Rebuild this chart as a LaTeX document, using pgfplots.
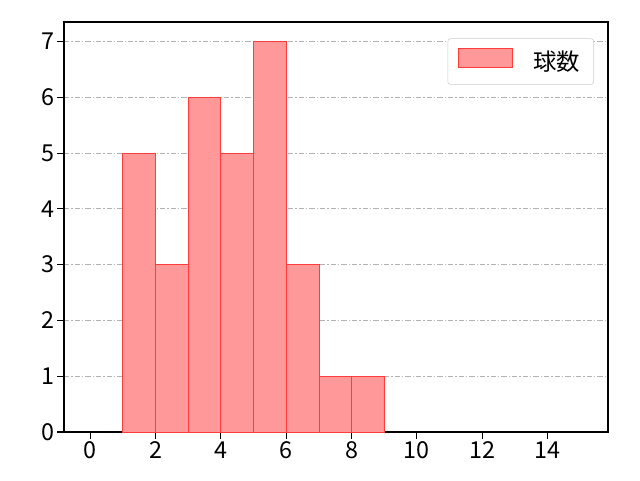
\documentclass[border=0pt]{standalone}
\usepackage{fontspec}
\setmainfont{Noto Sans CJK JP}
\usepackage{pgfplots}
\pgfplotsset{compat=1.18}
\definecolor{barfill}{RGB}{255,153,153}
\definecolor{baredge}{RGB}{255,60,60}

\begin{document}
\begin{tikzpicture}
\path[use as bounding box] (-48pt,-36pt) rectangle (432pt,324pt);
\begin{axis}[
  at={(0pt,0pt)}, anchor=south west,
  scale only axis, width=408pt, height=307.5pt,
  xmin=-0.8, xmax=15.85, ymin=0, ymax=7.35,
  xtick={0,2,...,14}, ytick={0,1,...,7},
  tick align=outside, tick pos=left,
  major tick length=5pt,
  tick style={black, line width=0.8pt},
  axis line style={line width=0.8pt},
  ymajorgrids,
  grid style={gray!60, dash pattern=on 4pt off 1.5pt on 1pt off 1.5pt, line width=0.6pt},
  /pgf/number format/assume math mode=true,
  ticklabel style={font=\fontsize{17.5pt}{20pt}\selectfont},
  xticklabel style={yshift=1pt},
  yticklabel style={xshift=1pt},
  legend style={at={(0.974,0.96)}, anchor=north east, draw=black!20, rounded corners=2pt,
    font=\fontsize{17.5pt}{20pt}\selectfont, inner xsep=8pt, inner ysep=7pt},
  legend image code/.code={\draw[#1, fill opacity=1, sharp corners] (0cm,-0.15cm) rectangle (1.4cm,0.35cm);},
  legend cell align=left,
]
\addplot[ybar interval, fill=barfill, draw=baredge, line width=0.5pt]
  coordinates {(1,5) (2,3) (3,6) (4,5) (5,7) (6,3) (7,1) (8,1) (9,0)};
\addlegendentry{\hspace{14pt}球数}
\end{axis}
\end{tikzpicture}
\end{document}
